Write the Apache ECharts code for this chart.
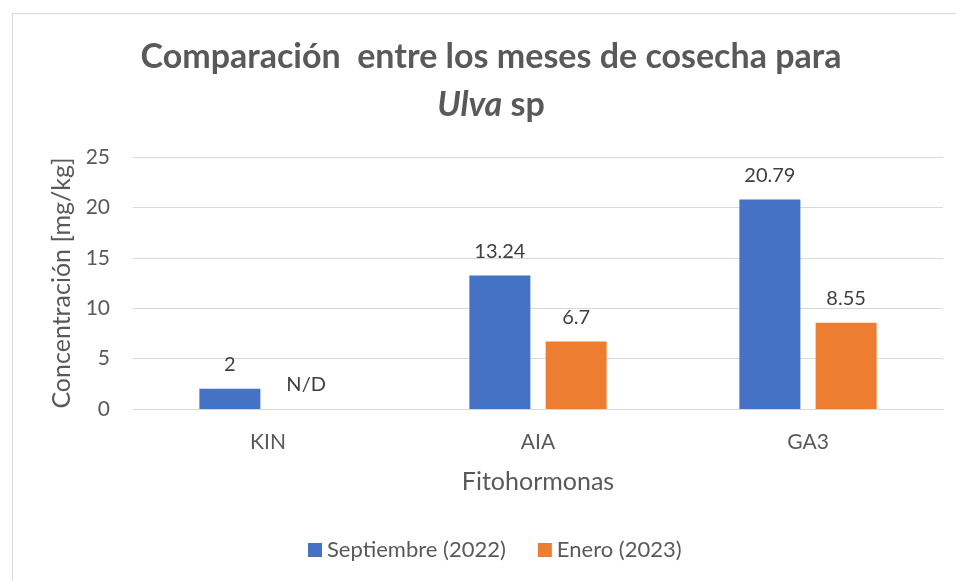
<!DOCTYPE html>
<html>
<head>
<meta charset="utf-8">
<script src="https://cdn.jsdelivr.net/npm/echarts@6/dist/echarts.min.js"></script>
<style>html,body{margin:0;padding:0;background:#fff}#c{width:956px;height:581px}</style>
</head>
<body>
<div id="c"></div>
<script>
var categories = ['KIN', 'AIA', 'GA3'];
var septiembre = [2, 13.24, 20.79];
var enero = [0, 6.7, 8.55];
var eneroLabels = ['N/D', '6.7', '8.55'];
var seriesNames = ['Septiembre (2022)', 'Enero (2023)'];
var yTicks = [0, 5, 10, 15, 20, 25];

var FONT = 'Lato';
var chart = echarts.init(document.getElementById('c'));
chart.setOption({
  backgroundColor: '#fff',
  animation: false,
  textStyle: { fontFamily: FONT },
  title: {
    text: 'Comparación  entre los meses de cosecha para\n{i|Ulva} sp',
    left: 491,
    top: 33,
    padding: 0,
    textAlign: 'center',
    textStyle: {
      fontFamily: FONT, fontSize: 34, fontWeight: 'bold', color: '#595959', lineHeight: 48,
      rich: { i: { fontFamily: FONT, fontSize: 34, fontWeight: 'bold', fontStyle: 'italic', color: '#595959', lineHeight: 48 } }
    }
  },
  graphic: [{
    type: 'rect', shape: { x: 12.5, y: 13.5, width: 1000, height: 700 },
    style: { fill: 'none', stroke: '#d9d9d9', lineWidth: 1 }, silent: true, z: -1
  }],
  grid: { left: 133, right: 13, top: 157, bottom: 172, containLabel: false },
  legend: {
    data: seriesNames,
    top: 539,
    left: 308,
    padding: 0,
    itemWidth: 14, itemHeight: 14, itemGap: 32,
    icon: 'rect',
    textStyle: { fontFamily: FONT, fontSize: 22, color: '#595959' }
  },
  xAxis: {
    type: 'category',
    data: categories,
    name: 'Fitohormonas',
    nameLocation: 'middle',
    nameGap: 60,
    nameTextStyle: { fontFamily: FONT, fontSize: 25, color: '#595959' },
    axisLine: { lineStyle: { color: '#d9d9d9', width: 1 } },
    axisTick: { show: false },
    axisLabel: { fontFamily: FONT, fontSize: 21, color: '#595959', margin: 23 }
  },
  yAxis: {
    type: 'value',
    min: yTicks[0], max: yTicks[yTicks.length - 1], interval: 5,
    name: 'Concentración [mg/kg]',
    nameLocation: 'middle',
    nameGap: 56,
    nameTextStyle: { fontFamily: FONT, fontSize: 25, color: '#595959' },
    axisLine: { show: false },
    axisTick: { show: false },
    splitLine: { lineStyle: { color: '#d9d9d9', width: 1 } },
    axisLabel: { fontFamily: FONT, fontSize: 21, color: '#595959', margin: 23 }
  },
  series: [{
    name: seriesNames[0], type: 'bar', data: septiembre,
    barWidth: 61, barGap: '25%',
    itemStyle: { color: '#4472C4' },
    label: { show: true, position: 'top', distance: 14, fontFamily: FONT, fontSize: 20, color: '#404040' }
  }, {
    name: seriesNames[1], type: 'bar', data: enero,
    barWidth: 61,
    itemStyle: { color: '#ED7D31' },
    label: { show: true, position: 'top', distance: 14, fontFamily: FONT, fontSize: 20, color: '#404040',
      formatter: function (p) { return eneroLabels[p.dataIndex]; } }
  }]
});
</script>
</body>
</html>
